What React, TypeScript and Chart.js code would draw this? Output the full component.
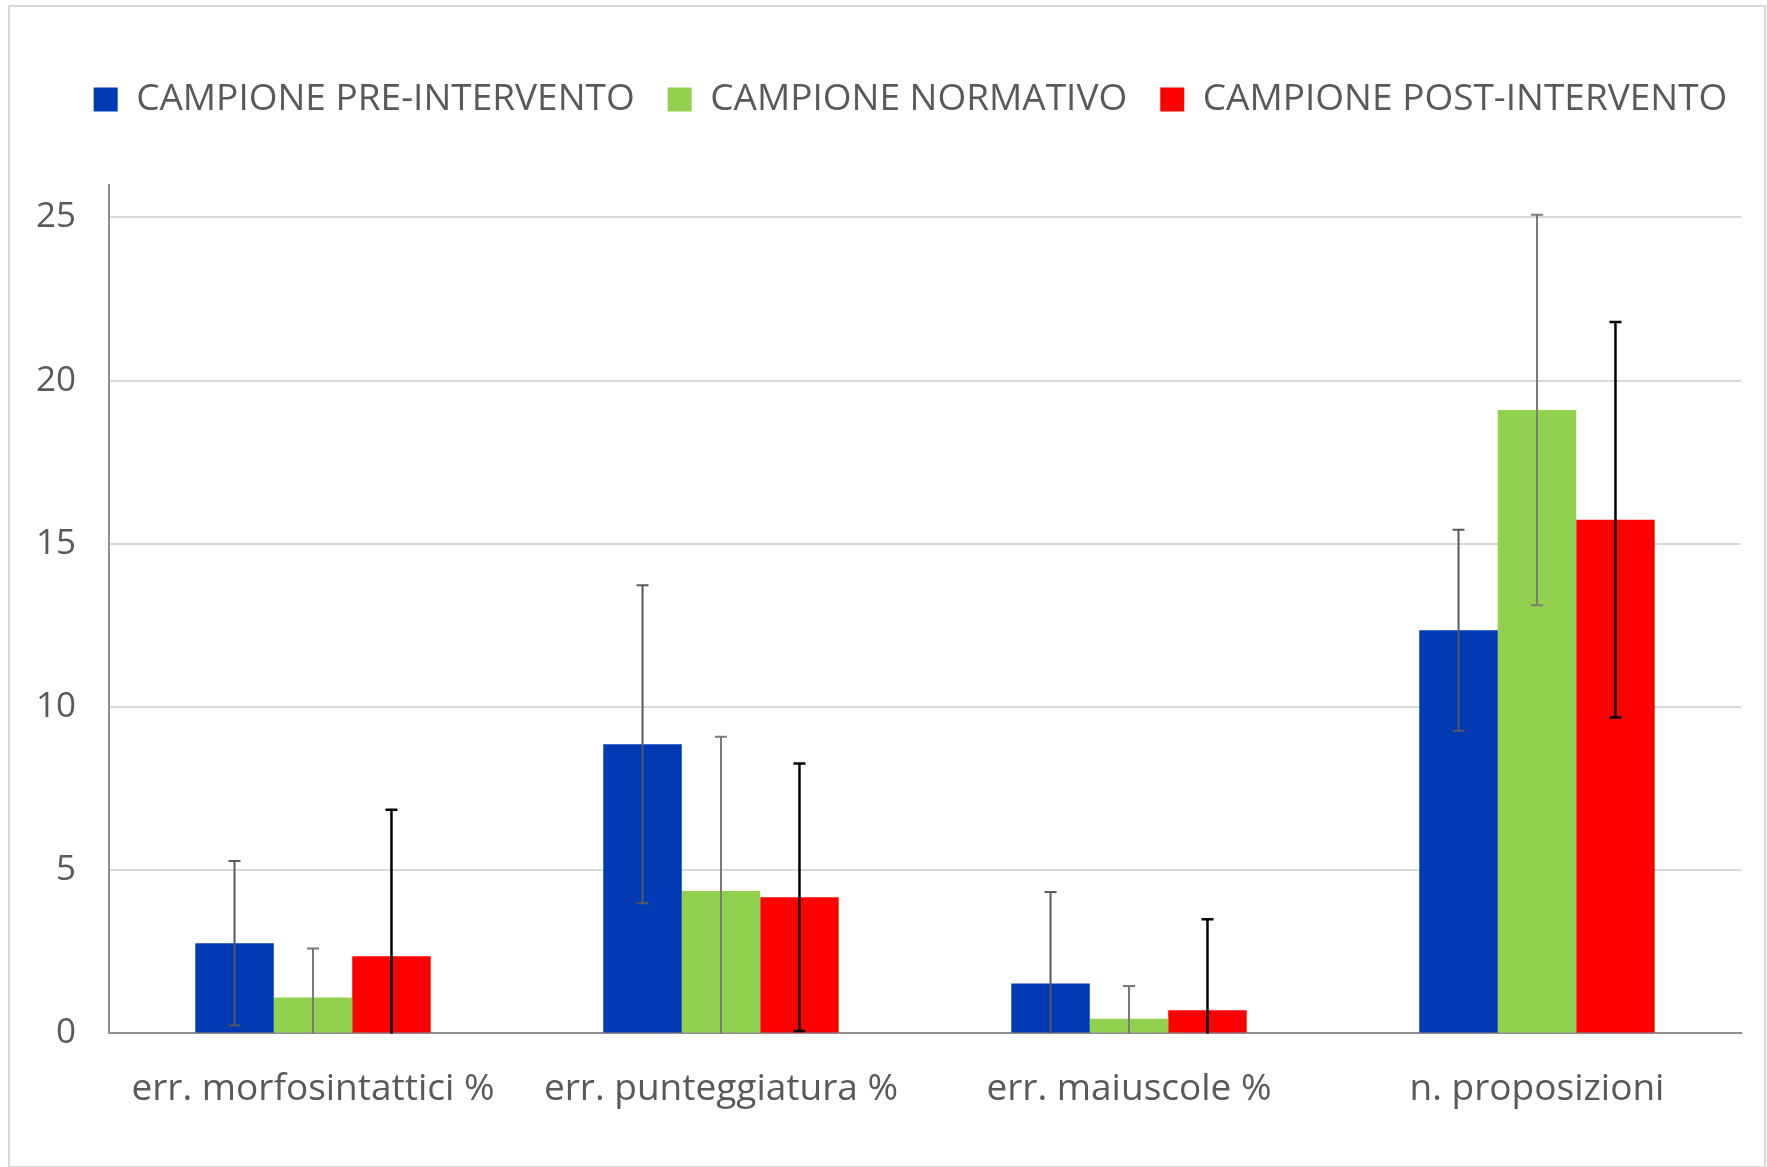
import React, { useEffect, useRef } from "react";
import { Chart, registerables } from "chart.js";

Chart.register(...registerables);

const categories = [
  "err. morfosintattici %",
  "err. punteggiatura %",
  "err. maiuscole %",
  "n. proposizioni",
];
const seriesNames = [
  "CAMPIONE PRE-INTERVENTO",
  "CAMPIONE NORMATIVO",
  "CAMPIONE POST-INTERVENTO",
];
const preValues = [2.76, 8.86, 1.53, 12.35];
const preSD = [2.52, 4.87, 2.8, 3.08];
const normValues = [1.1, 4.36, 0.45, 19.1];
const normSD = [1.5, 4.73, 1.0, 5.98];
const postValues = [2.36, 4.17, 0.71, 15.74];
const postSD = [4.49, 4.1, 2.79, 6.06];
const yTickValues = [0, 5, 10, 15, 20, 25];

const colors = ["#0039B4", "#92D050", "#FF0000"];
const errColors = ["#595959", "#7a7a7a", "#000000"];
const errWidths = [2, 2, 2.5];
const FONT = "'Open Sans', 'Noto Sans', sans-serif";

const errorBarPlugin = {
  id: "errorBars",
  afterDatasetsDraw(chart: any) {
    const ctx = chart.ctx;
    const area = chart.chartArea;
    const y = chart.scales.y;
    ctx.save();
    ctx.beginPath();
    ctx.rect(area.left, area.top - 2, area.right - area.left, area.bottom - area.top + 2);
    ctx.clip();
    chart.data.datasets.forEach((ds: any, i: number) => {
      const meta = chart.getDatasetMeta(i);
      meta.data.forEach((el: any, j: number) => {
        const v = ds.data[j];
        const sd = ds.errors[j];
        const x = el.x;
        const yt = y.getPixelForValue(v + sd);
        const yb = y.getPixelForValue(v - sd);
        ctx.strokeStyle = errColors[i];
        ctx.lineWidth = errWidths[i];
        ctx.beginPath();
        ctx.moveTo(x, yt);
        ctx.lineTo(x, yb);
        ctx.moveTo(x - 6, yt);
        ctx.lineTo(x + 6, yt);
        ctx.moveTo(x - 6, yb);
        ctx.lineTo(x + 6, yb);
        ctx.stroke();
      });
    });
    ctx.restore();
  },
};

const framePlugin = {
  id: "frame",
  beforeDraw(chart: any) {
    const ctx = chart.ctx;
    ctx.save();
    ctx.fillStyle = "#ffffff";
    ctx.fillRect(0, 0, chart.width, chart.height);
    ctx.strokeStyle = "#d9d9d9";
    ctx.lineWidth = 2;
    ctx.strokeRect(9, 6, chart.width - 11, chart.height - 6);
    ctx.restore();
  },
};

export default function App() {
  const ref = useRef<HTMLCanvasElement>(null);
  useEffect(() => {
    document.body.style.margin = "0";
    const canvas = ref.current!;
    const chart = new Chart(canvas, {
      type: "bar",
      data: {
        labels: categories,
        datasets: [
          { label: seriesNames[0], data: preValues, errors: preSD, backgroundColor: colors[0] } as any,
          { label: seriesNames[1], data: normValues, errors: normSD, backgroundColor: colors[1] } as any,
          { label: seriesNames[2], data: postValues, errors: postSD, backgroundColor: colors[2] } as any,
        ].map((d: any) => ({ ...d, borderWidth: 0, categoryPercentage: 0.577, barPercentage: 1 })),
      },
      options: {
        animation: false,
        responsive: false,
        events: [],
        layout: { padding: { left: 30, right: -24, top: 48, bottom: 0 } },
        plugins: {
          tooltip: { enabled: false },
          legend: {
            position: "top",
            labels: {
              boxWidth: 24,
              boxHeight: 24,
              padding: 33,
              color: "#595959",
              font: { family: FONT, size: 37 },
            },
          },
        },
        scales: {
          x: {
            grid: { display: false, drawTicks: false },
            border: { display: true, color: "#8f8f8f", width: 2 },
            ticks: { color: "#595959", font: { family: FONT, size: 37 }, padding: 34, maxRotation: 0 },
            afterFit: (s: any) => { s.height = 133.6; },
          },
          xTop: {
            type: "linear",
            position: "top",
            display: true,
            grid: { display: false, drawTicks: false },
            border: { display: false },
            ticks: { display: false },
            afterFit: (s: any) => { s.height = 56.8; },
          },
          y: {
            min: 0,
            max: 26,
            ticks: { stepSize: 5, color: "#595959", font: { family: FONT, size: 35 }, padding: 33 },
            afterBuildTicks: (s: any) => {
              s.ticks = yTickValues.map((v) => ({ value: v }));
            },
            grid: {
              drawTicks: false,
              color: (c: any) => (c.tick && c.tick.value === 0 ? "rgba(0,0,0,0)" : "#d9d9d9"),
              lineWidth: 2,
            },
            border: { display: true, color: "#8f8f8f", width: 2 },
            afterFit: (s: any) => { s.width = 79; },
          },
          yRight: {
            type: "linear",
            position: "right",
            display: true,
            grid: { display: false, drawTicks: false },
            border: { display: false },
            ticks: { display: false },
            afterFit: (s: any) => { s.width = 50; },
          },
        },
      } as any,
      plugins: [framePlugin, errorBarPlugin],
    });
    return () => chart.destroy();
  }, []);
  return (
    <div style={{ width: 1767, height: 1167 }}>
      <canvas ref={ref} width={1767} height={1167} style={{ display: "block" }} />
    </div>
  );
}
